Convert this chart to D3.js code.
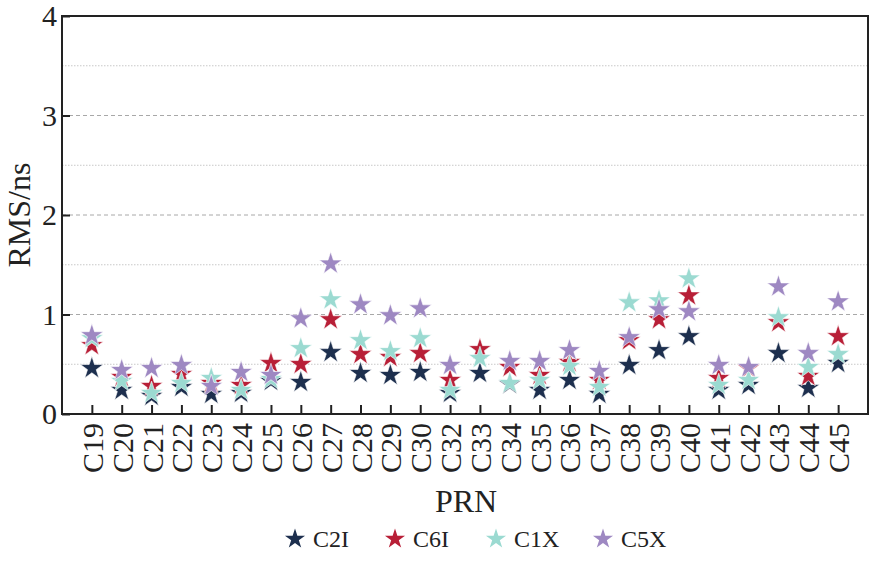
<!DOCTYPE html>
<html><head><meta charset="utf-8">
<script src="https://cdn.jsdelivr.net/npm/d3@7"></script>
<style>body{margin:0;background:#fff}svg{display:block}text{font-family:"Liberation Serif","Times New Roman",serif;fill:#222}</style>
</head><body>
<script>
const categories = ["C19","C20","C21","C22","C23","C24","C25","C26","C27","C28","C29","C30","C32","C33","C34","C35","C36","C37","C38","C39","C40","C41","C42","C43","C44","C45"];
const C2I = [0.46,0.24,0.18,0.27,0.20,0.21,0.33,0.32,0.62,0.41,0.39,0.42,0.21,0.41,0.30,0.24,0.34,0.20,0.49,0.64,0.78,0.24,0.29,0.61,0.26,0.51];
const C6I = [0.69,0.37,0.28,0.40,0.31,0.29,0.51,0.50,0.95,0.60,0.57,0.61,0.34,0.65,0.47,0.39,0.52,0.34,0.74,0.95,1.19,0.36,0.46,0.92,0.38,0.78];
const C1X = [0.76,0.33,0.21,0.31,0.36,0.24,0.35,0.66,1.15,0.74,0.63,0.76,0.24,0.56,0.31,0.34,0.48,0.27,1.12,1.14,1.36,0.29,0.34,0.97,0.47,0.60];
const C5X = [0.79,0.44,0.46,0.49,0.28,0.42,0.39,0.96,1.51,1.10,0.99,1.06,0.49,null,0.53,0.53,0.64,0.43,0.77,1.05,1.03,0.49,0.47,1.28,0.61,1.13];
const seriesNames = ["C2I","C6I","C1X","C5X"];
const seriesColors = ["#1d2f4e","#b81f37","#9bdad1","#9e88c2"];
const yTicks = [0,1,2,3,4];
const yMinor = [0.5,1.5,2.5,3.5];

const W=878,H=564, L=62,R=868,T=16,B=414;
const svg=d3.select("body").append("svg").attr("width",W).attr("height",H);
const x=d3.scalePoint().domain(categories).range([L,R]).padding(1);
const y=d3.scaleLinear().domain([0,4]).range([B,T]);

// grid
svg.append("g").selectAll("line").data(yMinor).join("line")
  .attr("x1",L).attr("x2",R).attr("y1",d=>y(d)).attr("y2",d=>y(d))
  .attr("stroke","#c8c8c8").attr("stroke-width",1).attr("stroke-dasharray","1.5,1.5");
svg.append("g").selectAll("line").data([1,2,3]).join("line")
  .attr("x1",L).attr("x2",R).attr("y1",d=>y(d)).attr("y2",d=>y(d))
  .attr("stroke","#a8a8a8").attr("stroke-width",1).attr("stroke-dasharray","4,3");

// axes
const yAxis=d3.axisLeft(y).tickValues(yTicks).tickSizeInner(-8).tickSizeOuter(0).tickPadding(14).tickFormat(d3.format("d"));
const gy=svg.append("g").attr("transform",`translate(${L},0)`).call(yAxis);
gy.select(".domain").remove();
gy.selectAll(".tick line").attr("stroke","#222").attr("stroke-width",2);
gy.selectAll(".tick text").attr("x",-5).attr("font-size",30).attr("fill","#222");

const xAxis=d3.axisBottom(x).tickSizeInner(-9).tickSizeOuter(0).tickPadding(6);
const gx=svg.append("g").attr("transform",`translate(0,${B})`).call(xAxis);
gx.select(".domain").remove();
gx.selectAll(".tick line").attr("stroke","#222").attr("stroke-width",2);
gx.selectAll(".tick text").attr("font-size",30).attr("fill","#222")
  .attr("transform","rotate(-90)").attr("text-anchor","end").attr("x",-9).attr("y",0).attr("dy","0.35em");

// frame
svg.append("rect").attr("x",L).attr("y",T).attr("width",R-L).attr("height",B-T)
  .attr("fill","none").attr("stroke","#222").attr("stroke-width",2);

// stars
const star=d3.symbol().type(d3.symbolStar).size(160);
const allSeries=[C2I,C6I,C1X,C5X];
allSeries.forEach((vals,i)=>{
  svg.append("g").selectAll("path").data(categories.map((c,j)=>({c,v:vals[j]})).filter(d=>d.v!=null)).join("path")
    .attr("d",star).attr("transform",d=>`translate(${x(d.c)},${y(d.v)})`)
    .attr("fill",seriesColors[i]).attr("stroke","#fff").attr("stroke-width",0.6);
});

// labels
svg.append("text").attr("transform",`translate(30,${(T+B)/2}) rotate(-90)`).attr("text-anchor","middle")
  .attr("font-size",32).text("RMS/ns");
svg.append("text").attr("x",466).attr("y",512).attr("text-anchor","middle").attr("font-size",32).text("PRN");

// legend
const legX=[295,395,496,603];
const lg=svg.append("g");
seriesNames.forEach((n,i)=>{
  lg.append("path").attr("d",d3.symbol().type(d3.symbolStar).size(125)()).attr("transform",`translate(${legX[i]},${539})`).attr("fill",seriesColors[i]);
  lg.append("text").attr("x",legX[i]+18).attr("y",547).attr("font-size",24).text(n);
});
</script>
</body></html>
